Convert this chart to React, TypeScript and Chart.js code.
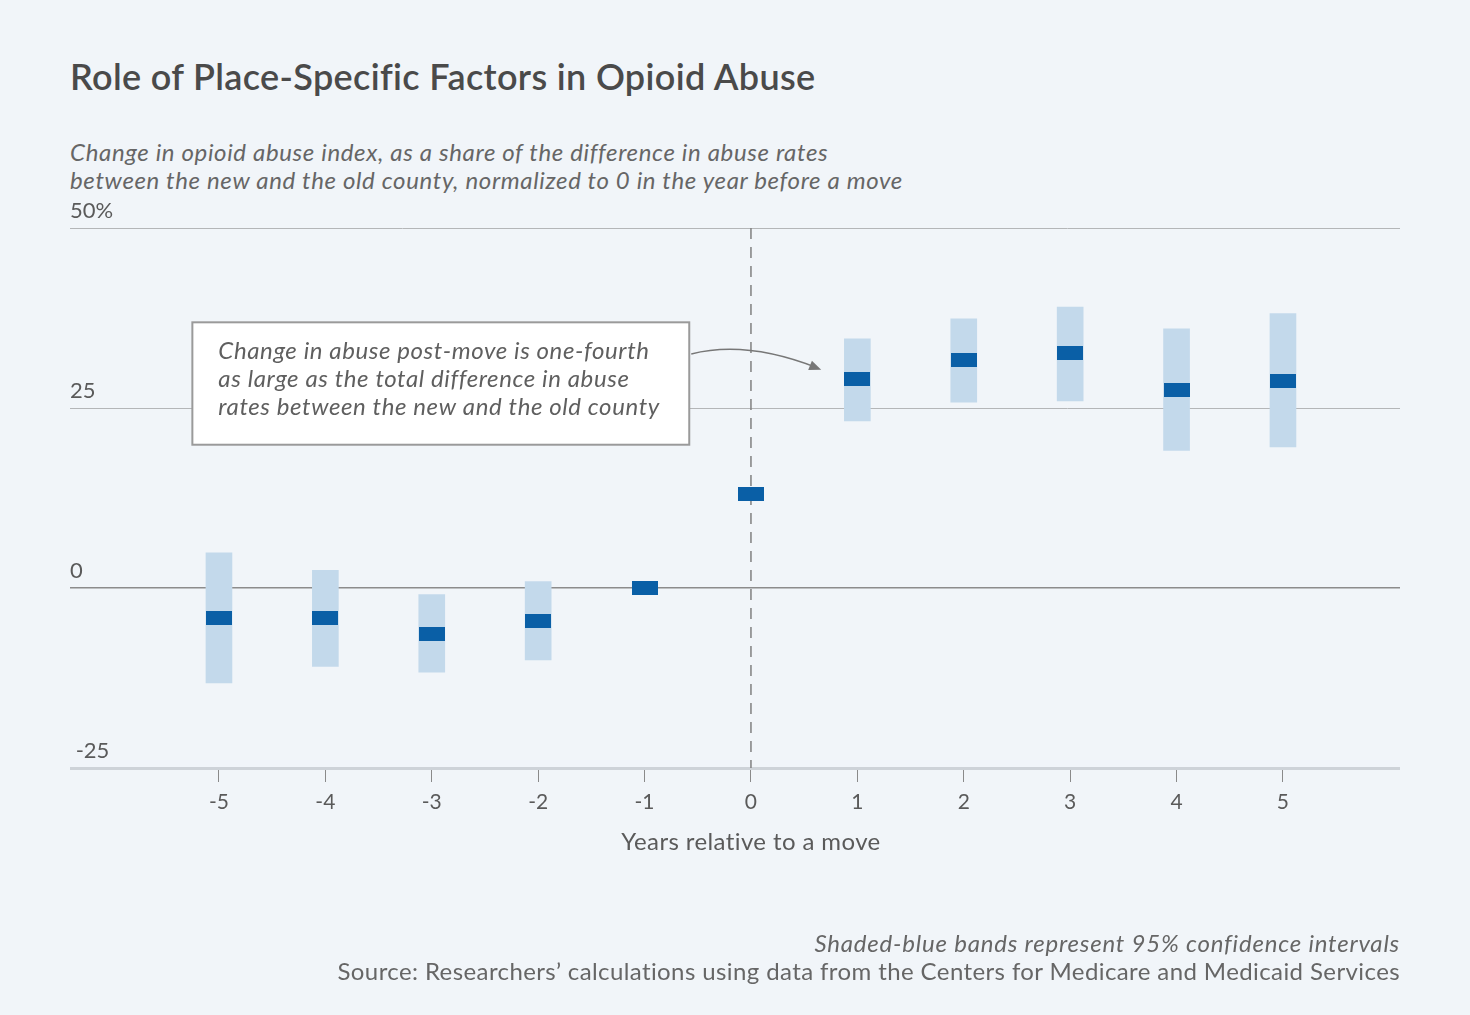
import React, { useEffect, useRef } from "react";
import { Chart, registerables } from "chart.js";
Chart.register(...registerables);

const years = [-5, -4, -3, -2, -1, 0, 1, 2, 3, 4, 5];
const estimates = [-4.2, -4.1, -6.4, -4.6, 0, 13.0, 29.0, 31.7, 32.6, 27.5, 28.8];
const ciLow = [-13.2, -10.9, -11.7, -10.0, null, null, 23.2, 25.8, 26.0, 19.1, 19.6];
const ciHigh = [4.9, 2.45, -0.9, 0.9, null, null, 34.6, 37.4, 39.0, 36.0, 38.1];
const xTicks = [-5, -4, -3, -2, -1, 0, 1, 2, 3, 4, 5];
const yTicks = [-25, 0, 25, 50];
const yTickLabels = [" -25", "0", "25", "50%"];

const titleText = "Role of Place-Specific Factors in Opioid Abuse";
const subtitleLines = [
  "Change in opioid abuse index, as a share of the difference in abuse rates",
  "between the new and the old county, normalized to 0 in the year before a move",
];
const xAxisTitle = "Years relative to a move";
const noteLines = [
  "Change in abuse post-move is one-fourth",
  "as large as the total difference in abuse",
  "rates between the new and the old county",
];
const footLines = [
  "Shaded-blue bands represent 95% confidence intervals",
  "Source: Researchers\u2019 calculations using data from the Centers for Medicare and Medicaid Services",
];

// annotation placement in data coordinates
const noteBox = { x0: -5.25, x1: -0.58, y0: 19.9, y1: 36.9 };
const arrowEnd = { x: 0.66, y: 30.3 };
const arrowStartY = 32.5;
const xTitleAt = { x: 0, yPx: 842 };

const FONT = "Lato, 'Noto Sans', sans-serif";
const TEXT = "#5a5a5a";

export default function App() {
  const ref = useRef<HTMLCanvasElement>(null);
  useEffect(() => {
    document.body.style.margin = "0";
    const marker = document.createElement("canvas");
    marker.width = 26;
    marker.height = 14;
    const mctx = marker.getContext("2d")!;
    mctx.fillStyle = "#0a5fa6";
    mctx.fillRect(0, 0, 26, 14);

    const bandData = years
      .map((x, i) => (ciLow[i] === null ? null : { x, y: [ciLow[i], ciHigh[i]] }))
      .filter((d) => d !== null);
    const pointData = years.map((x, i) => ({ x, y: estimates[i] }));

    const overlay = {
      id: "overlay",
      beforeDatasetsDraw(chart: any) {
        const { ctx, chartArea, scales } = chart;
        const x0 = scales.x.getPixelForValue(0);
        ctx.save();
        ctx.strokeStyle = "#808080";
        ctx.lineWidth = 1.5;
        ctx.setLineDash([11, 8]);
        ctx.beginPath();
        ctx.moveTo(x0, chartArea.top);
        ctx.lineTo(x0, chartArea.bottom);
        ctx.stroke();
        ctx.restore();
      },
      afterDatasetsDraw(chart: any) {
        const { ctx, scales } = chart;
        const xs = scales.x, ys = scales.y;
        const l = xs.getPixelForValue(noteBox.x0);
        const r = xs.getPixelForValue(noteBox.x1);
        const t = ys.getPixelForValue(noteBox.y1);
        const b = ys.getPixelForValue(noteBox.y0);
        ctx.save();
        ctx.fillStyle = "#ffffff";
        ctx.fillRect(l, t, r - l, b - t);
        ctx.strokeStyle = "#9a9a9a";
        ctx.lineWidth = 2;
        ctx.strokeRect(l, t, r - l, b - t);
        ctx.fillStyle = "#5f5f5f";
        ctx.font = "italic 24px " + FONT;
        (ctx as any).letterSpacing = "0.6px";
        ctx.textBaseline = "middle";
        ctx.textAlign = "left";
        noteLines.forEach((line, i) => {
          ctx.fillText(line, l + 26, t + 29 + i * 28);
        });
        (ctx as any).letterSpacing = "0px";
        // arrow
        const sx = r + 2;
        const sy = ys.getPixelForValue(arrowStartY);
        const ex = xs.getPixelForValue(arrowEnd.x);
        const ey = ys.getPixelForValue(arrowEnd.y);
        const cx = (sx + ex) / 2 - 10;
        const cy = sy - 14;
        ctx.strokeStyle = "#777";
        ctx.lineWidth = 1.5;
        ctx.beginPath();
        ctx.moveTo(sx, sy);
        ctx.quadraticCurveTo(cx, cy, ex - 4, ey - 2);
        ctx.stroke();
        const ang = Math.atan2(ey - cy, ex - cx);
        ctx.fillStyle = "#777";
        ctx.beginPath();
        ctx.moveTo(ex, ey);
        ctx.lineTo(ex - 13 * Math.cos(ang - 0.4), ey - 13 * Math.sin(ang - 0.4));
        ctx.lineTo(ex - 13 * Math.cos(ang + 0.4), ey - 13 * Math.sin(ang + 0.4));
        ctx.closePath();
        ctx.fill();
        // x axis title, centred on the move year
        ctx.fillStyle = TEXT;
        ctx.font = "24px " + FONT;
        (ctx as any).letterSpacing = "0.4px";
        ctx.textAlign = "center";
        ctx.textBaseline = "middle";
        ctx.fillText(xAxisTitle, xs.getPixelForValue(xTitleAt.x), xTitleAt.yPx);
        ctx.restore();
      },
    };

    const chart = new Chart(ref.current!, {
      type: "bar",
      data: {
        datasets: [
          {
            type: "bar",
            data: bandData as any,
            backgroundColor: "#c3d9eb",
            barThickness: 26,
            order: 2,
          },
          {
            type: "scatter",
            data: pointData,
            pointStyle: marker,
            pointRadius: 13,
            order: 1,
          } as any,
        ],
      },
      options: {
        animation: false,
        responsive: false,
        events: [],
        layout: { padding: { left: 70, right: 70, top: 228, bottom: 137 } },
        plugins: { legend: { display: false }, tooltip: { enabled: false } },
        scales: {
          x: {
            type: "linear",
            min: -6.4,
            max: 6.1,
            offset: false,
            afterBuildTicks: (axis: any) => {
              axis.ticks = xTicks.map((v) => ({ value: v }));
            },
            afterFit: (axis: any) => {
              axis.height = 110;
            },
            border: { display: false },
            grid: { offset: false, drawOnChartArea: false, drawTicks: true, tickLength: 14, color: "#8a8a8a", lineWidth: 1 },
            ticks: {
              font: { family: FONT, size: 21 },
              color: TEXT,
              padding: 8,
              callback: (v: any) => String(v),
            },
          },
          y: {
            type: "linear",
            min: -25,
            max: 50,
            afterBuildTicks: (axis: any) => {
              axis.ticks = yTicks.map((v) => ({ value: v }));
            },
            afterFit: (axis: any) => {
              axis.width = 0;
            },
            border: { display: false },
            grid: {
              drawTicks: false,
              color: (c: any) => (c.tick && c.tick.value === 0 ? "#8c8c8c" : c.tick && c.tick.value === -25 ? "#ced3d8" : "#b4b6b8"),
              lineWidth: (c: any) => (c.tick && c.tick.value === 0 ? 1.5 : c.tick && c.tick.value === -25 ? 3 : 1),
            },
            ticks: {
              mirror: true,
              padding: 0,
              labelOffset: -17,
              font: { family: FONT, size: 22 },
              color: TEXT,
              callback: (v: any) => yTickLabels[yTicks.indexOf(v)],
            },
          },
        },
      },
      plugins: [overlay],
    });
    return () => chart.destroy();
  }, []);

  return (
    <div style={{ position: "relative", width: 1470, height: 1015, background: "#f1f5f9", fontFamily: FONT, overflow: "hidden" }}>
      <div style={{ position: "absolute", left: 70, top: 54, fontSize: 36, letterSpacing: "0.35px", fontWeight: 600, color: "#4a4a4a", lineHeight: "44px", whiteSpace: "nowrap" }}>
        {titleText}
      </div>
      <div style={{ position: "absolute", left: 70, top: 138, fontSize: 24, letterSpacing: "0.65px", fontStyle: "italic", color: "#666", lineHeight: "28px", whiteSpace: "nowrap" }}>
        {subtitleLines.map((s, i) => (
          <div key={i}>{s}</div>
        ))}
      </div>
      <canvas ref={ref} width={1470} height={1015} style={{ position: "absolute", left: 0, top: 0, width: 1470, height: 1015 }} />
      <div style={{ position: "absolute", right: 70, top: 929, fontSize: 24, color: "#666", lineHeight: "28px", textAlign: "right", whiteSpace: "nowrap" }}>
        <div style={{ fontStyle: "italic", letterSpacing: "0.8px" }}>{footLines[0]}</div>
        <div style={{ letterSpacing: "0.4px" }}>{footLines[1]}</div>
      </div>
    </div>
  );
}
